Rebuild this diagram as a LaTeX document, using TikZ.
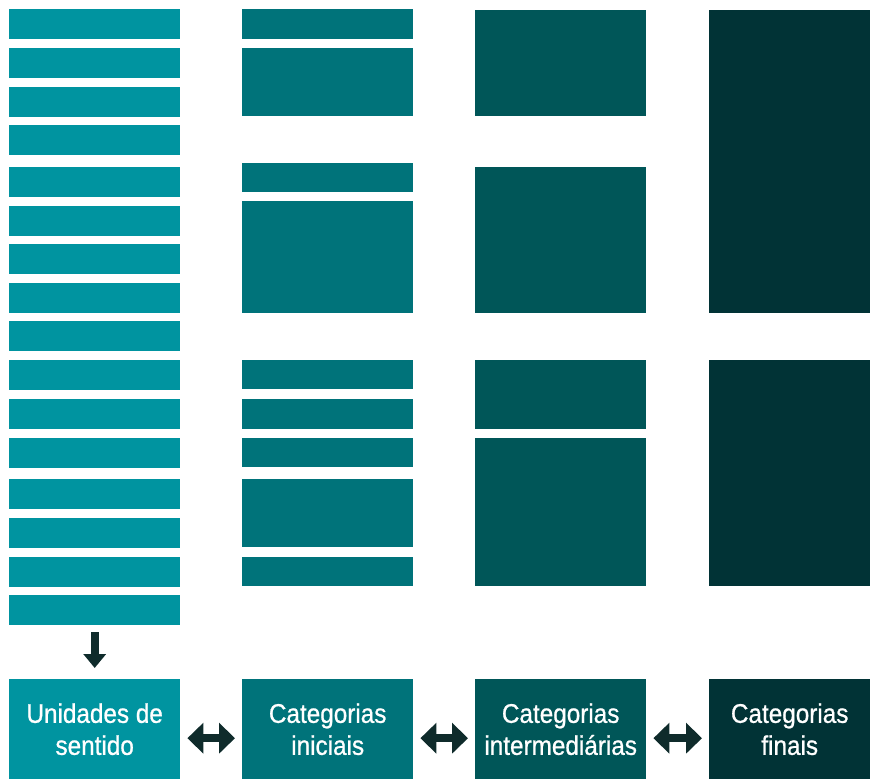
\documentclass[tikz,border=0pt]{standalone}
\usepackage{fontspec}
\usetikzlibrary{arrows.meta}
\newfontfamily\boxfont[FakeStretch=0.9,FakeBold=0.8]{Liberation Sans}

\definecolor{unitcol}{HTML}{0094A0}
\definecolor{initcol}{HTML}{00737A}
\definecolor{midcol}{HTML}{005658}
\definecolor{finalcol}{HTML}{013336}
\definecolor{arrowcol}{HTML}{0F2B2B}

\tikzset{
  unitbar/.style={fill=unitcol, inner sep=0pt, anchor=north west,
    minimum width=171pt, minimum height=30pt},
  stagebox/.style={inner sep=0pt, anchor=north west, minimum width=171pt,
    minimum height=100pt, text=white, align=center,
    font=\boxfont\fontsize{27}{32}\selectfont},
  twoway/.style={draw=arrowcol, line width=8pt, shorten <=7pt, shorten >=7pt,
    {Triangle[width=30pt,length=16pt]}-{Triangle[width=30pt,length=16pt]}},
  oneway/.style={draw=arrowcol, line width=8pt, shorten <=7pt, shorten >=11pt,
    -{Triangle[width=22pt,length=14pt]}}
}

\begin{document}
\begin{tikzpicture}[x=1pt, y=-1pt]
  \useasboundingbox (0,0) rectangle (870,779);

  \foreach \top [count=\i] in {9,48,87,125,167,206,244,283,321,360,399,438,479,518,557,595}
    \node[unitbar] (b\i) at (9,\top) {};

  \foreach \t/\b in {9/39, 48/116, 163/192, 201/313, 360/389, 399/429, 438/467, 479/547, 557/586}
    \fill[initcol] (242,\t) rectangle (413,\b);

  \foreach \t/\b in {10/116, 167/313, 360/429, 438/586}
    \fill[midcol] (475,\t) rectangle (646,\b);

  \foreach \t/\b in {10/313, 360/586}
    \fill[finalcol] (709,\t) rectangle (870,\b);

  \node[stagebox, fill=unitcol] (us) at (9,679) {Unidades de\\sentido};
  \node[stagebox, fill=initcol] (ci) at (242,679) {Categorias\\iniciais};
  \node[stagebox, fill=midcol] (cm) at (475,679) {Categorias\\intermediárias};
  \node[stagebox, fill=finalcol, minimum width=161pt] (cf) at (709,679) {Categorias\\finais};

  \path[oneway] (b16.south) -- (us.north);
  \path[twoway] ([yshift=-9pt]us.east) -- ([yshift=-9pt]ci.west);
  \path[twoway] ([yshift=-9pt]ci.east) -- ([yshift=-9pt]cm.west);
  \path[twoway] ([yshift=-9pt]cm.east) -- ([yshift=-9pt]cf.west);
\end{tikzpicture}
\end{document}
